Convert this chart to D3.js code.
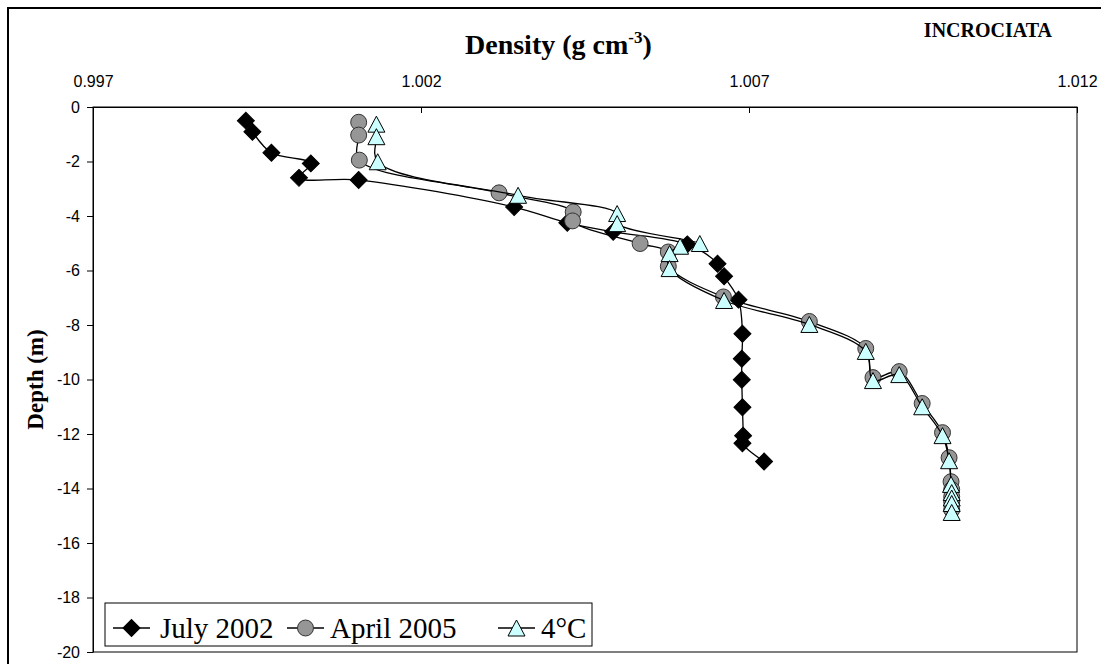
<!DOCTYPE html>
<html>
<head>
<meta charset="utf-8">
<script src="https://cdn.jsdelivr.net/npm/d3@7/dist/d3.min.js"></script>
<style>
  html, body { margin: 0; padding: 0; background: #fff; }
  svg { display: block; }
</style>
</head>
<body>
<svg id="chart" width="1101" height="664"></svg>
<script>
// ---- data ----
const xTicks = [0.997, 1.002, 1.007, 1.012];
const yTicks = [0, -2, -4, -6, -8, -10, -12, -14, -16, -18, -20];
const seriesNames = ["July 2002", "April 2005", "4°C"];

const julyDensity = [0.99933, 0.99943, 0.99972, 1.00032, 1.00014, 1.00105, 1.00342, 1.00423, 1.00493, 1.00606, 1.00652, 1.00662, 1.00684, 1.00690, 1.00689, 1.00689, 1.00690, 1.00691, 1.00690, 1.00723];
const julyDepth   = [-0.50, -0.91, -1.68, -2.07, -2.60, -2.68, -3.67, -4.25, -4.58, -5.04, -5.75, -6.21, -7.07, -8.32, -9.24, -10.01, -11.02, -12.06, -12.34, -13.01];

const aprilDensity = [1.00105, 1.00105, 1.00106, 1.00319, 1.00432, 1.00431, 1.00534, 1.00577, 1.00577, 1.00661, 1.00792, 1.00878, 1.00889, 1.00929, 1.00964, 1.00995, 1.01005, 1.01008, 1.01009, 1.01009, 1.01009, 1.01009];
const aprilDepth   = [-0.56, -1.03, -1.95, -3.15, -3.85, -4.18, -5.01, -5.32, -5.85, -6.97, -7.87, -8.86, -9.93, -9.71, -10.88, -11.95, -12.87, -13.75, -14.04, -14.30, -14.49, -14.78];

const c4Density = [1.00132, 1.00132, 1.00134, 1.00348, 1.00499, 1.00499, 1.00625, 1.00595, 1.00579, 1.00579, 1.00662, 1.00792, 1.00878, 1.00889, 1.00929, 1.00964, 1.00995, 1.01005, 1.01008, 1.01009, 1.01009, 1.01009, 1.01009];
const c4Depth   = [-0.63, -1.09, -2.01, -3.24, -3.91, -4.28, -5.01, -5.11, -5.38, -5.93, -7.10, -7.98, -8.97, -10.04, -9.82, -11.00, -12.06, -12.98, -13.85, -14.15, -14.35, -14.55, -14.88];

// ---- layout ----
const svg = d3.select("#chart");
const W = 1101, H = 664;
const plot = { left: 93, right: 1077, top: 107, bottom: 652 };

const x = d3.scaleLinear().domain([0.997, 1.012]).range([plot.left, plot.right]);
const y = d3.scaleLinear().domain([-20, 0]).range([plot.bottom, plot.top]);

svg.append("rect").attr("x", 0).attr("y", 0).attr("width", W).attr("height", H).attr("fill", "#fff");
// outer chart frame (right and bottom edges fall outside the picture)
svg.append("rect").attr("x", 8).attr("y", 8).attr("width", 1110).attr("height", 680)
  .attr("fill", "none").attr("stroke", "#000").attr("stroke-width", 2);

// plot area frame
svg.append("rect").attr("x", plot.left).attr("y", plot.top)
  .attr("width", plot.right - plot.left).attr("height", plot.bottom - plot.top)
  .attr("fill", "#fff").attr("stroke", "#000").attr("stroke-width", 1);

// axes
const xAxis = d3.axisTop(x).tickValues(xTicks).tickFormat(d3.format(".3f"))
  .tickSizeInner(-6).tickSizeOuter(0).tickPadding(20);
const gx = svg.append("g").attr("transform", `translate(0,${plot.top})`).call(xAxis);
gx.selectAll("text").attr("font-family", "Liberation Sans, Arial, sans-serif").attr("font-size", 16).attr("fill", "#000");
gx.selectAll("line").attr("stroke", "#000");
gx.select(".domain").attr("stroke", "#000");

const yAxis = d3.axisLeft(y).tickValues(yTicks).tickFormat(d => String(d))
  .tickSizeInner(6).tickSizeOuter(0).tickPadding(7);
const gy = svg.append("g").attr("transform", `translate(${plot.left},0)`).call(yAxis);
gy.selectAll("text").attr("font-family", "Liberation Sans, Arial, sans-serif").attr("font-size", 16).attr("fill", "#000");
gy.selectAll("line").attr("stroke", "#000");
gy.select(".domain").attr("stroke", "#000");

// titles
const title = svg.append("text").attr("x", 465).attr("y", 54)
  .attr("font-family", "Liberation Serif, serif").attr("font-weight", "bold").attr("font-size", 28);
title.append("tspan").text("Density (g cm");
title.append("tspan").attr("dy", -11).attr("font-size", 17).text("-3");
title.append("tspan").attr("dy", 11).text(")");

svg.append("text").attr("x", 1052).attr("y", 37).attr("text-anchor", "end")
  .attr("font-family", "Liberation Serif, serif").attr("font-weight", "bold").attr("font-size", 20)
  .text("INCROCIATA");

svg.append("text").attr("transform", `translate(43,${(plot.top + plot.bottom) / 2}) rotate(-90)`)
  .attr("text-anchor", "middle")
  .attr("font-family", "Liberation Serif, serif").attr("font-weight", "bold").attr("font-size", 23)
  .text("Depth (m)");

// markers
const triPath = (w, h) => `M0,${-h / 2}L${w / 2},${h / 2}L${-w / 2},${h / 2}Z`;
const markers = [
  { path: d3.symbol(d3.symbolSquare, 144)(), rotate: 45, fill: "#000", stroke: "#000" },
  { path: d3.symbol(d3.symbolCircle, 200)(), rotate: 0, fill: "#969696", stroke: "#333" },
  { path: triPath(17, 16), rotate: 0, fill: "#CCFFFF", stroke: "#000" }
];

const series = [
  { dens: julyDensity, dep: julyDepth },
  { dens: aprilDensity, dep: aprilDepth },
  { dens: c4Density, dep: c4Depth }
];

const line = d3.line().x(d => x(d[0])).y(d => y(d[1])).curve(d3.curveCatmullRom.alpha(0.5));

series.forEach((s, i) => {
  const pts = s.dens.map((d, k) => [d, s.dep[k]]);
  const g = svg.append("g");
  g.append("path").attr("d", line(pts)).attr("fill", "none").attr("stroke", "#000").attr("stroke-width", 1.3);
  g.selectAll("path.m").data(pts).join("path").attr("class", "m")
    .attr("d", markers[i].path)
    .attr("transform", d => `translate(${x(d[0])},${y(d[1])}) rotate(${markers[i].rotate})`)
    .attr("fill", markers[i].fill).attr("stroke", markers[i].stroke).attr("stroke-width", 1);
});

// legend
const legend = svg.append("g");
legend.append("rect").attr("x", 105).attr("y", 603).attr("width", 487).attr("height", 43)
  .attr("fill", "#fff").attr("stroke", "#000").attr("stroke-width", 1);
const legendLineX = [113, 287, 498];
const legendTextX = [160, 330, 541];
const ly = 628;
seriesNames.forEach((name, i) => {
  legend.append("line").attr("x1", legendLineX[i]).attr("x2", legendLineX[i] + 37)
    .attr("y1", ly).attr("y2", ly).attr("stroke", "#000").attr("stroke-width", 1.3);
  legend.append("path").attr("d", markers[i].path)
    .attr("transform", `translate(${legendLineX[i] + 18.5},${ly}) rotate(${markers[i].rotate})`)
    .attr("fill", markers[i].fill).attr("stroke", markers[i].stroke).attr("stroke-width", 1);
  legend.append("text").attr("x", legendTextX[i]).attr("y", 638)
    .attr("font-family", "Liberation Serif, serif").attr("font-size", 29).text(name);
});
</script>
</body>
</html>
